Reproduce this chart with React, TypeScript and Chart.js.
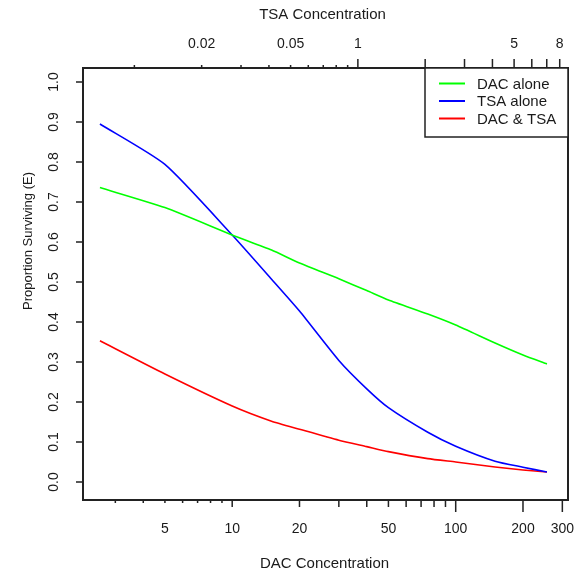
import React, { useEffect, useRef } from "react";
import { Chart, registerables } from "chart.js";
Chart.register(...registerables);

// ---- data ----
const dacConcentration = [2.56, 5, 10, 15, 20, 30, 40, 50, 75, 100, 150, 200, 256];
const dacAlone = [0.736, 0.686, 0.6175, 0.58, 0.5475, 0.508, 0.4785, 0.455, 0.42, 0.3925, 0.3475, 0.3175, 0.295];
const tsaAlone = [0.895, 0.794, 0.6175, 0.507, 0.4275, 0.304, 0.233, 0.186, 0.1245, 0.0895, 0.052, 0.037, 0.025];
const dacAndTsa = [0.353, 0.27, 0.19, 0.152, 0.132, 0.1045, 0.0885, 0.076, 0.0585, 0.05, 0.0375, 0.03, 0.025];
const seriesLabels = ["DAC alone", "TSA alone", "DAC & TSA"];
const seriesColors = ["#00ff00", "#0000ff", "#ff0000"];

// ---- axes ----
const xMin = 2.15;
const xMax = 318;
const dacPerTsa = 36.5; // DAC units per TSA unit on the top axis
const yMin = -0.045;
const yMax = 1.035;

const dacTickValues = [3, 4, 5, 6, 7, 8, 9, 10, 20, 30, 40, 50, 60, 70, 80, 90, 100, 200, 300];
const dacLabelValues = [5, 10, 20, 50, 100, 200, 300];
const dacLabelTexts = ["5", "10", "20", "50", "100", "200", "300"];

const tsaTickValues = [0.1, 0.2, 0.3, 0.4, 0.5, 0.6, 0.7, 0.8, 0.9, 1, 2, 3, 4, 5, 6, 7, 8];
const tsaLabelValues = [0.2, 0.5, 1, 5, 8];
const tsaLabelTexts = ["0.02", "0.05", "1", "5", "8"];

const yTickValues = [0, 0.1, 0.2, 0.3, 0.4, 0.5, 0.6, 0.7, 0.8, 0.9, 1.0];
const yTickTexts = ["0.0", "0.1", "0.2", "0.3", "0.4", "0.5", "0.6", "0.7", "0.8", "0.9", "1.0"];

const xTitle = "DAC Concentration";
const x2Title = "TSA Concentration";
const yTitle = "Proportion Surviving (E)";

const FONT = "'Liberation Sans', Arial, Helvetica, sans-serif";
const TEXT = "#1a1a1a";

function bottomTickLen(v: number) {
  if (v < 10) return 3;
  if (v < 100) return 7;
  return 12;
}
function topTickLen(v: number) {
  return v < 1 ? 3 : 9;
}

const rAxesPlugin = {
  id: "rAxes",
  afterDraw(chart: any) {
    const { ctx, chartArea: a, scales } = chart;
    ctx.save();
    ctx.strokeStyle = "#222";
    ctx.fillStyle = TEXT;
    ctx.lineCap = "butt";

    // ticks
    ctx.lineWidth = 1.5;
    const sx = scales.x;
    const sx2 = scales.x2;
    const sy = scales.y;
    ctx.beginPath();
    for (const v of dacTickValues) {
      const px = sx.getPixelForValue(v);
      ctx.moveTo(px, a.bottom);
      ctx.lineTo(px, a.bottom + bottomTickLen(v));
    }
    for (const v of tsaTickValues) {
      const px = sx2.getPixelForValue(v);
      ctx.moveTo(px, a.top);
      ctx.lineTo(px, a.top - topTickLen(v));
    }
    for (const v of yTickValues) {
      const py = sy.getPixelForValue(v);
      ctx.moveTo(a.left, py);
      ctx.lineTo(a.left - 7, py);
    }
    ctx.stroke();

    // box
    ctx.lineWidth = 2;
    ctx.strokeRect(a.left, a.top, a.right - a.left, a.bottom - a.top);

    // tick labels
    ctx.font = "14px " + FONT;
    ctx.textAlign = "center";
    ctx.textBaseline = "middle";
    dacLabelValues.forEach((v, i) => {
      ctx.fillText(dacLabelTexts[i], sx.getPixelForValue(v), a.bottom + 29);
    });
    tsaLabelValues.forEach((v, i) => {
      ctx.fillText(tsaLabelTexts[i], sx2.getPixelForValue(v), a.top - 24);
    });
    yTickValues.forEach((v, i) => {
      const py = sy.getPixelForValue(v);
      ctx.save();
      ctx.translate(a.left - 29, py);
      ctx.rotate(-Math.PI / 2);
      ctx.fillText(yTickTexts[i], 0, 0);
      ctx.restore();
    });

    // titles
    const cx = (a.left + a.right) / 2;
    ctx.font = "15px " + FONT;
    ctx.fillText(xTitle, cx - 1, a.bottom + 64);
    ctx.fillText(x2Title, cx - 3, a.top - 53);
    ctx.font = "13px " + FONT;
    ctx.save();
    ctx.translate(a.left - 55, a.top + 173);
    ctx.rotate(-Math.PI / 2);
    ctx.fillText(yTitle, 0, 0);
    ctx.restore();

    // legend
    const lw = 143;
    const lh = 69;
    const lx = a.right - lw;
    const ly = a.top;
    ctx.fillStyle = "#fff";
    ctx.fillRect(lx, ly, lw, lh);
    ctx.lineWidth = 1.5;
    ctx.strokeStyle = "#222";
    ctx.strokeRect(lx, ly, lw, lh);
    ctx.font = "15px " + FONT;
    ctx.textAlign = "left";
    chart.data.datasets.forEach((ds: any, i: number) => {
      const yy = ly + 15.5 + i * 17.5;
      ctx.strokeStyle = ds.borderColor;
      ctx.lineWidth = 2;
      ctx.beginPath();
      ctx.moveTo(lx + 14, yy);
      ctx.lineTo(lx + 40, yy);
      ctx.stroke();
      ctx.fillStyle = TEXT;
      ctx.fillText(ds.label, lx + 52, yy + 1);
    });
    ctx.restore();
  },
};

export default function App() {
  const ref = useRef<HTMLCanvasElement | null>(null);
  useEffect(() => {
    document.body.style.margin = "0";
    const seriesValues = [dacAlone, tsaAlone, dacAndTsa];
    const chart = new Chart(ref.current as HTMLCanvasElement, {
      type: "line",
      data: {
        datasets: seriesValues.map((vals, i) => ({
          label: seriesLabels[i],
          data: dacConcentration.map((x, j) => ({ x, y: vals[j] })),
          borderColor: seriesColors[i],
          backgroundColor: seriesColors[i],
          borderWidth: 1.6,
          pointRadius: 0,
          tension: 0.2,
          fill: false,
        })),
      },
      options: {
        responsive: false,
        animation: false,
        layout: { padding: { left: 0, right: 14, top: 0, bottom: 0 } },
        plugins: { legend: { display: false }, tooltip: { enabled: false } },
        scales: {
          x: {
            type: "logarithmic",
            position: "bottom",
            min: xMin,
            max: xMax,
            ticks: { display: false },
            grid: { display: false },
            border: { display: false },
            afterFit: (s: any) => {
              s.height = 76;
            },
          },
          x2: {
            type: "logarithmic",
            position: "top",
            min: xMin / dacPerTsa,
            max: xMax / dacPerTsa,
            ticks: { display: false },
            grid: { display: false },
            border: { display: false },
            afterFit: (s: any) => {
              s.height = 68;
            },
          },
          y: {
            type: "linear",
            min: yMin,
            max: yMax,
            ticks: { display: false },
            grid: { display: false },
            border: { display: false },
            afterFit: (s: any) => {
              s.width = 83;
            },
          },
        },
      },
      plugins: [rAxesPlugin],
    });
    return () => chart.destroy();
  }, []);
  return (
    <div style={{ width: 582, height: 576, background: "#fff" }}>
      <canvas ref={ref} width={582} height={576} style={{ display: "block" }} />
    </div>
  );
}
